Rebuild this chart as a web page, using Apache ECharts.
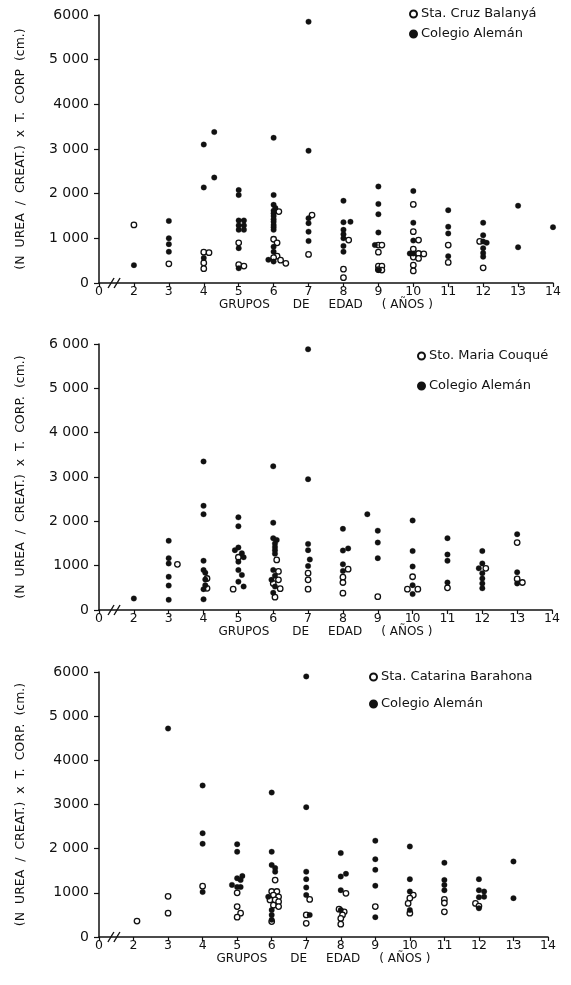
<!DOCTYPE html>
<html>
<head>
<meta charset="utf-8">
<script src="https://cdn.jsdelivr.net/npm/echarts@6/dist/echarts.min.js"></script>
<style>html,body{margin:0;padding:0;background:#fff}#c{width:571px;height:985px}</style>
</head>
<body>
<div id="c"></div>
<script>
// ---- data ----
const xTickLabels = {1:'0',2:'2',3:'3',4:'4',5:'5',6:'6',7:'7',8:'8',9:'9',10:'10',11:'11',12:'12',13:'13',14:'14'};
const yTickLabels1 = {0:'0',1000:'1 000',2000:'2 000',3000:'3 000',4000:'4000',5000:'5 000',6000:'6000'};
const yTickLabels2 = {0:'0',1000:'1000',2000:'2 000',3000:'3 000',4000:'4 000',5000:'5 000',6000:'6 000'};
const yTickLabels3 = {0:'0',1000:'1000',2000:'2 000',3000:'3000',4000:'4000',5000:'5 000',6000:'6000'};
const legendNames = ['Sta. Cruz Balanyá','Sto. Maria Couqué','Sta. Catarina Barahona'];
const refName = 'Colegio Alemán';

const p1Open = [[2,1300],[3,430],[4,690],[4.15,680],[4,450],[4,320],[5.1,1350],[5,900],[5,410],[5.15,380],
 [6.15,1600],[6,980],[6.1,900],[6.1,600],[6,570],[6.2,510],[6.35,440],[7.1,1520],[7,640],[8.15,960],[8,310],[8,120],
 [9,850],[9.1,850],[9,690],[9,380],[9.1,380],[9.1,290],[9,300],
 [10,1760],[10,1150],[10.15,960],[10,760],[10.15,660],[10.3,650],[10,580],[10.15,550],[10,400],[10,270],
 [11,850],[11,460],[11.9,930],[12,340]];
const p1Filled = [[2,400],[3,1390],[3,1000],[3,870],[3,700],[4,3100],[4.3,3380],[4,2140],[4.3,2360],[4,560],
 [5,2080],[5,1970],[5,1400],[5.15,1400],[5,1290],[5.15,1290],[5,1190],[5.15,1190],[5,780],[5,330],
 [6,3250],[6,1970],[6,1750],[6.05,1680],[6,1620],[6,1560],[6,1500],[6,1430],[6,1370],[6,1300],[6,1250],[6,1190],[6,810],[6,700],[5.85,520],[6,480],
 [7,5850],[7,2960],[7,1450],[7,1340],[7,1150],[7,940],
 [8,1840],[8,1360],[8.2,1370],[8,1190],[8,1090],[8,1000],[8,830],[8,700],
 [9,2160],[9,1770],[9,1540],[9,1130],[8.9,850],[9,290],
 [10,2060],[10,1350],[10,950],[9.9,660],[10,660],
 [11,1630],[11,1260],[11,1110],[11,600],
 [12,1350],[12,1070],[12,930],[12.1,900],[12,780],[12,670],[12,590],
 [13,1730],[13,800],[14,1250]];

const p2Open = [[3.25,1030],[4.1,710],[4.1,490],[5,1190],[4.85,470],[6.1,1130],[6.15,870],[6.15,680],[6,600],[6.2,480],[6.05,290],
 [7,830],[7,680],[7,470],[8.15,920],[8,740],[8,620],[8,380],[9,300],[10,750],[9.85,470],[10.15,470],[11,500],
 [12.1,940],[13,1520],[13,700],[13.15,620]];
const p2Filled = [[2,260],[3,1560],[3,1170],[3,1050],[3,750],[3,550],[3,230],
 [4,3350],[4,2350],[4,2160],[4,1110],[4,900],[4.05,840],[4.05,690],[4.05,560],[4,470],[4,240],
 [5,2090],[5,1890],[5,1410],[4.9,1350],[5.1,1280],[5.15,1190],[5,1090],[5,900],[5.1,790],[5,640],[5.15,530],
 [6,3240],[6,1970],[6,1620],[6.1,1580],[6.05,1500],[6.05,1420],[6.05,1350],[6.05,1270],[6,900],[6.05,770],[5.95,680],[6.05,530],[6,390],
 [7,5880],[7,2950],[7,1490],[7,1350],[7.05,1140],[7,990],
 [8,1830],[8,1340],[8.15,1390],[8,1030],[8,880],[8.7,2160],
 [9,1790],[9,1520],[9,1170],[10,2020],[10,1330],[10,980],[10,560],[10,360],
 [11,1620],[11,1250],[11,1110],[11,620],
 [12,1330],[12,1050],[11.9,940],[12,830],[12,710],[12,600],[12,490],[13,1710],[13,850],[13,600]];

const p3Open = [[2.1,360],[3,920],[3,540],[4,1150],[5,1000],[5,690],[5.1,540],[5,450],
 [6.1,1290],[6,1030],[6.15,1030],[6.05,950],[6.2,910],[5.95,840],[6.1,840],[6.2,800],[6.05,720],[6.2,690],[6,350],
 [7.1,850],[7,500],[7,310],[8.15,990],[7.95,630],[8.1,570],[8.05,500],[8,420],[8,290],[9,690],
 [10.1,950],[10,880],[9.95,760],[10,540],[11,850],[11,770],[11,570],[11.9,760],[12,700]];
const p3Filled = [[3,4720],[4,3430],[4,2350],[4,2110],[4,1020],
 [5,2100],[5,1930],[5.15,1380],[5,1330],[5.1,1290],[4.85,1180],[5.1,1130],[5,1130],
 [6,3270],[6,1930],[6,1630],[6.1,1560],[6.1,1480],[5.9,910],[6,610],[6,500],[6,390],
 [7,5900],[7,2940],[7,1480],[7,1310],[7,1120],[7,950],[7.1,500],
 [8,1900],[8.15,1430],[8,1370],[8,1060],[8,610],
 [9,2180],[9,1760],[9,1520],[9,1160],[9,450],
 [10,2050],[10,1310],[10,1030],[10,610],
 [11,1680],[11,1290],[11,1180],[11,1060],
 [12,1310],[12,1060],[12.15,1030],[12.15,910],[12,900],[12,650],[13,1710],[13,880]];

const yNames = ['(N  UREA  /  CREAT.)  x  T.  CORP  (cm.)','(N  UREA  /  CREAT.)  x  T.  CORP.  (cm.)','(N  UREA  /  CREAT.)  x  T.  CORP.  (cm.)'];
const xName = 'GRUPOS      DE     EDAD     ( AÑOS )';

// ---- layout ----
const FONT = 'DejaVu Sans';
const grids = [
  {left:99, right:18, top:15, height:268},
  {left:99, right:19, top:344, height:266},
  {left:99, right:23, top:672, height:265}
];
const legendPos = [
  {left:404, top:2, gap:6},
  {left:412, top:344, gap:16},
  {left:364, top:665, gap:13}
];
const yLabelSets = [yTickLabels1, yTickLabels2, yTickLabels3];
const openSets = [p1Open, p2Open, p3Open];
const filledSets = [p1Filled, p2Filled, p3Filled];

const xAxes = [], yAxes = [], series = [], legends = [];
grids.forEach((g, i) => {
  xAxes.push({
    type:'value', gridIndex:i, min:1, max:14, interval:1,
    name:xName, nameLocation:'middle', nameGap:10,
    nameTextStyle:{fontFamily:FONT, fontSize:12, color:'#111'},
    axisLine:{lineStyle:{color:'#111', width:1.5}},
    axisTick:{length:4, lineStyle:{color:'#111', width:1.2}},
    axisLabel:{fontFamily:FONT, fontSize:12.5, color:'#111', margin:2,
      formatter:v => xTickLabels[v] !== undefined ? xTickLabels[v] : ''},
    splitLine:{show:false}
  });
  yAxes.push({
    type:'value', gridIndex:i, min:0, max:6000, interval:1000,
    name:yNames[i], nameLocation:'middle', nameGap:72, nameRotate:90,
    nameTextStyle:{fontFamily:FONT, fontSize:12.5, color:'#111'},
    axisLine:{show:true, lineStyle:{color:'#111', width:1.5}},
    axisTick:{show:true, length:5, lineStyle:{color:'#111', width:1.2}},
    axisLabel:{fontFamily:FONT, fontSize:14, color:'#111', margin:10,
      formatter:v => yLabelSets[i][v] !== undefined ? yLabelSets[i][v] : ''},
    splitLine:{show:false}
  });
  series.push({
    type:'scatter', name:legendNames[i], xAxisIndex:i, yAxisIndex:i,
    data:openSets[i], symbolSize:5.5,
    itemStyle:{color:'#fff', borderColor:'#111', borderWidth:1.3, opacity:1}
  });
  series.push({
    type:'scatter', name:refName, xAxisIndex:i, yAxisIndex:i,
    data:filledSets[i], symbolSize:5.5,
    itemStyle:{color:'#111', borderColor:'#111', borderWidth:0.3, opacity:1}
  });
  // axis break marks "//"
  series.push({
    type:'custom', xAxisIndex:i, yAxisIndex:i, data:[[1.46,0]], silent:true, z:5,
    renderItem:(params, api) => {
      const p = api.coord([api.value(0), api.value(1)]);
      const st = {stroke:'#111', lineWidth:1.4};
      return {type:'group', children:[
        {type:'line', shape:{x1:p[0]-7, y1:p[1]+5, x2:p[0]-1, y2:p[1]-5}, style:st},
        {type:'line', shape:{x1:p[0]-1, y1:p[1]+5, x2:p[0]+5, y2:p[1]-5}, style:st}
      ]};
    }
  });
  legends.push({
    orient:'vertical', left:legendPos[i].left, top:legendPos[i].top, itemGap:legendPos[i].gap,
    itemWidth:7, itemHeight:7, selectedMode:false,
    data:[{name:legendNames[i], icon:'circle'}, {name:refName, icon:'circle'}],
    textStyle:{fontFamily:FONT, fontSize:13, color:'#111', padding:[0,0,0,-1], lineHeight:14}
  });
});

const chart = echarts.init(document.getElementById('c'), null, {renderer:'canvas'});
chart.setOption({
  backgroundColor:'#fff',
  animation:false,
  grid:grids,
  xAxis:xAxes,
  yAxis:yAxes,
  legend:legends,
  series:series
});
</script>
</body>
</html>
